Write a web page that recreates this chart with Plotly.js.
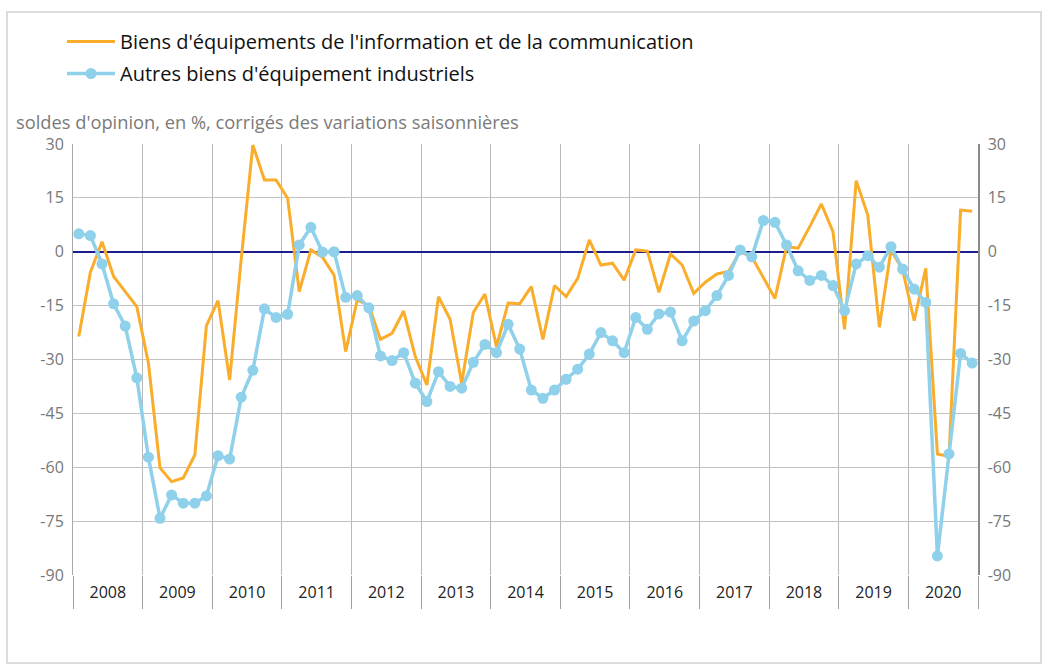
<!DOCTYPE html>
<html>
<head>
<meta charset="utf-8">
<script src="https://cdn.plot.ly/plotly-3.0.1.min.js"></script>
<style>
html,body{margin:0;padding:0;background:#fff;}
#chart{width:1042px;height:669px;}
</style>
</head>
<body>
<div id="chart"></div>
<script>
// ---- data (bimonthly observations, 6 per year, 2008-2020) ----
var startYear = 2008;
var pointsPerYear = 6;
var yearLabels = ['2008','2009','2010','2011','2012','2013','2014','2015','2016','2017','2018','2019','2020'];

var seriesNames = [
  "Biens d'équipements de l'information et de la communication",
  "Autres biens d'équipement industriels"
];

var tic = [
  -23.6, -5.7, 2.8, -6.9, -11.1, -15.3,
  -31, -60.2, -64, -63, -56.6, -20.6,
  -13.6, -35.7, -2, 29.7, 20, 20,
  14.9, -11.1, 0.5, -1.5, -6.5, -27.8,
  -13.4, -15, -24.4, -22.7, -16.5, -29.2,
  -37.1, -12.5, -18.8, -36.6, -16.9, -11.8,
  -26.4, -14.3, -14.5, -9.7, -24.4, -9.4,
  -12.5, -7.4, 3.3, -3.7, -3.2, -7.9,
  0.5, 0.2, -11.3, -0.6, -3.7, -11.6,
  -8.5, -6.2, -5.5, 0, -1.4, -7,
  -13, 1.4, 1, 7, 13.3, 5.6,
  -21.6, 19.8, 10.2, -21, 0.5, -5,
  -19.2, -4.6, -56.3, -57, 11.6, 11.3
];

var autres = [
  5.0, 4.5, -3.4, -14.5, -20.7, -35.1,
  -57.2, -74.2, -67.7, -70, -70, -68,
  -56.8, -57.7, -40.5, -33, -15.9, -18.3,
  -17.4, 1.9, 6.8, -0.1, 0, -12.7,
  -12.2, -15.6, -29, -30.3, -28.1, -36.6,
  -41.7, -33.4, -37.5, -38, -30.8, -25.8,
  -28.1, -20.2, -27.1, -38.5, -40.8, -38.5,
  -35.5, -32.7, -28.5, -22.5, -24.8, -28.1,
  -18.3, -21.6, -17.3, -16.8, -24.8, -19.3,
  -16.4, -12.2, -6.6, 0.5, -1.4, 8.7,
  8.2, 1.9, -5.3, -8, -6.6, -9.4,
  -16.4, -3.4, -1.1, -4.3, 1.4, -4.8,
  -10.4, -14.1, -84.7, -56.3, -28.3, -31
];

var yTicks = [30, 15, 0, -15, -30, -45, -60, -75, -90];
var subtitle = "soldes d'opinion, en %, corrigés des variations saisonnières";

// ---- derived positions ----
var xs = tic.map(function(_, i){ return startYear + (i + 0.5) / pointsPerYear; });
var endYear = startYear + yearLabels.length;
var boundaries = [];
for (var y = startYear; y <= endYear; y++) boundaries.push(y);
var labelPos = yearLabels.map(function(_, i){ return startYear + i + 0.5; });
var yTickText = yTicks.map(String);

var ORANGE = '#f9ad2b';
var BLUE = '#8fd0ea';
var FONT = '"Open Sans", "Noto Sans", sans-serif';

var traces = [
  {
    x: xs, y: tic, type: 'scatter', mode: 'lines', name: seriesNames[0],
    line: {color: ORANGE, width: 3}, legendgroup: 'a', hoverinfo: 'skip'
  },
  {
    x: xs, y: autres, type: 'scatter', mode: 'lines+markers', name: seriesNames[1],
    line: {color: BLUE, width: 3.5}, marker: {color: BLUE, size: 11},
    legendgroup: 'b', hoverinfo: 'skip'
  },
  {
    // invisible carrier so the secondary (label / right) axes are drawn
    x: xs, y: tic, type: 'scatter', mode: 'lines', xaxis: 'x2', yaxis: 'y2',
    line: {color: 'rgba(0,0,0,0)', width: 0}, showlegend: false, hoverinfo: 'skip'
  }
];

var W = 1042, H = 669, L = 73, R = 64, T = 144, B = 94;
var pw = W - L - R, ph = H - T - B;
function px(x){ return (x - L) / pw; }
function py(y){ return (H - B - y) / ph; }

var layout = {
  width: W, height: H,
  margin: {l: L, r: R, t: T, b: B},
  paper_bgcolor: '#fff', plot_bgcolor: '#fff',
  font: {family: FONT, color: '#222'},
  showlegend: true,
  legend: {
    x: px(62), y: py(22), xanchor: 'left', yanchor: 'top',
    font: {size: 20, color: '#111', family: FONT},
    traceorder: 'grouped', tracegroupgap: 3, itemwidth: 48,
    bgcolor: 'rgba(0,0,0,0)'
  },
  xaxis: {
    range: [startYear, endYear], tickmode: 'array', tickvals: boundaries,
    ticktext: boundaries.map(function(){ return ''; }),
    ticks: 'outside', ticklen: 33, tickcolor: '#a0a0a0', tickwidth: 1,
    showgrid: true, gridcolor: '#b8b8b8', gridwidth: 1,
    zeroline: false, showline: false, fixedrange: true
  },
  xaxis2: {
    overlaying: 'x', anchor: 'y2', side: 'bottom',
    range: [startYear, endYear], tickmode: 'array', tickvals: labelPos, ticktext: yearLabels,
    ticks: 'outside', ticklen: 3, tickcolor: 'rgba(0,0,0,0)',
    tickfont: {size: 16, color: '#222', family: FONT},
    showgrid: false, zeroline: false, showline: false, fixedrange: true
  },
  yaxis: {
    range: [-90, 30], tickmode: 'array', tickvals: yTicks, ticktext: yTickText,
    ticks: 'outside', ticklen: 5, tickcolor: 'rgba(0,0,0,0)',
    tickfont: {size: 16, color: '#777', family: FONT},
    showgrid: true, gridcolor: '#c2c2c2', gridwidth: 1,
    zeroline: true, zerolinecolor: '#1c1c8c', zerolinewidth: 2,
    showline: true, linecolor: '#a8a8a8', linewidth: 1, fixedrange: true
  },
  yaxis2: {
    overlaying: 'y', anchor: 'x2', side: 'right',
    range: [-90, 30], tickmode: 'array', tickvals: yTicks, ticktext: yTickText,
    ticks: 'outside', ticklen: 5, tickcolor: 'rgba(0,0,0,0)',
    tickfont: {size: 16, color: '#777', family: FONT},
    showgrid: false, zeroline: false,
    showline: true, linecolor: '#8a8a8a', linewidth: 1.5, fixedrange: true
  },
  annotations: [
    {
      xref: 'paper', yref: 'paper', x: px(14), y: py(121), xanchor: 'left', yanchor: 'middle',
      text: subtitle, showarrow: false, font: {size: 18.3, color: '#7a7a7a', family: FONT}
    }
  ],
  shapes: [
    {
      type: 'rect', xref: 'paper', yref: 'paper', layer: 'below',
      x0: px(7), x1: px(1041), y0: py(663), y1: py(12),
      line: {color: '#dcdcdc', width: 2}, fillcolor: 'rgba(0,0,0,0)'
    }
  ]
};

Plotly.newPlot('chart', traces, layout, {displayModeBar: false, staticPlot: true});
</script>
</body>
</html>
